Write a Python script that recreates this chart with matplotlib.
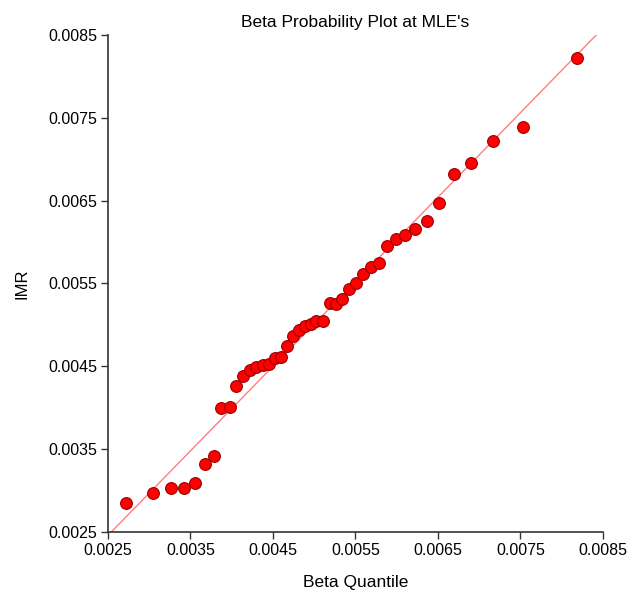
import matplotlib
matplotlib.use("Agg")
import matplotlib.pyplot as plt
from matplotlib.ticker import FixedLocator

plt.rcParams['font.family'] = ['Liberation Sans', 'DejaVu Sans']

beta_quantile = [0.002717, 0.003047, 0.003258, 0.003419, 0.003556, 0.003673, 0.003782,
                 0.003875, 0.003976, 0.004057, 0.004142, 0.004222, 0.004299, 0.004375,
                 0.004448, 0.004521, 0.004597, 0.004674, 0.004742, 0.004811, 0.004884,
                 0.004956, 0.005025, 0.005105, 0.005186, 0.005259, 0.005340, 0.005420,
                 0.005501, 0.005590, 0.005683, 0.005780, 0.005880, 0.005986, 0.006100,
                 0.006228, 0.006364, 0.006515, 0.006696, 0.006902, 0.007168, 0.007535,
                 0.008189]
imr = [0.002847, 0.002976, 0.003025, 0.003025, 0.003097, 0.003319, 0.003419,
       0.003996, 0.004012, 0.004268, 0.004386, 0.004455, 0.004486, 0.004516,
       0.004528, 0.004597, 0.004609, 0.004739, 0.004870, 0.004939, 0.004984,
       0.005012, 0.005044, 0.005044, 0.005262, 0.005253, 0.005314, 0.005435,
       0.005504, 0.005616, 0.005704, 0.005746, 0.005958, 0.006036, 0.006085,
       0.006157, 0.006257, 0.006475, 0.006817, 0.006955, 0.007224, 0.007385,
       0.008224]
ref_line_x = [0.00254, 0.00842]
ref_line_y = [0.0025, 0.0085]
ticks = [0.0025, 0.0035, 0.0045, 0.0055, 0.0065, 0.0075, 0.0085]
tick_labels = ["0.0025", "0.0035", "0.0045", "0.0055", "0.0065", "0.0075", "0.0085"]

fig = plt.figure(figsize=(6.28, 5.92), dpi=100)
ax = fig.add_axes([0.172, 0.1014, 0.788, 0.8396])

ax.plot(ref_line_x, ref_line_y, color='#ff7f7f', lw=1.0, zorder=1)
ax.scatter(beta_quantile, imr, s=72, color='#ff0000', edgecolors='#990000',
           linewidths=0.8, zorder=3, clip_on=False)

ax.set_xlim(0.0025, 0.0085)
ax.set_ylim(0.0025, 0.0085)
ax.xaxis.set_major_locator(FixedLocator(ticks))
ax.yaxis.set_major_locator(FixedLocator(ticks))
ax.set_xticklabels(tick_labels)
ax.set_yticklabels(tick_labels)

for s in ['top', 'right']:
    ax.spines[s].set_visible(False)
for s in ['left', 'bottom']:
    ax.spines[s].set_color('#333333')
    ax.spines[s].set_linewidth(1.2)
ax.tick_params(direction='out', length=5, width=1.0, color='#333333',
               labelsize=11.5, labelcolor='black', pad=3)

ax.set_title("Beta Probability Plot at MLE's", fontsize=12.5, pad=6)
ax.set_xlabel("Beta Quantile", fontsize=12.5, labelpad=12)
ax.set_ylabel("IMR", fontsize=12, labelpad=13)

fig.savefig("out.png", dpi=100, facecolor='white')
